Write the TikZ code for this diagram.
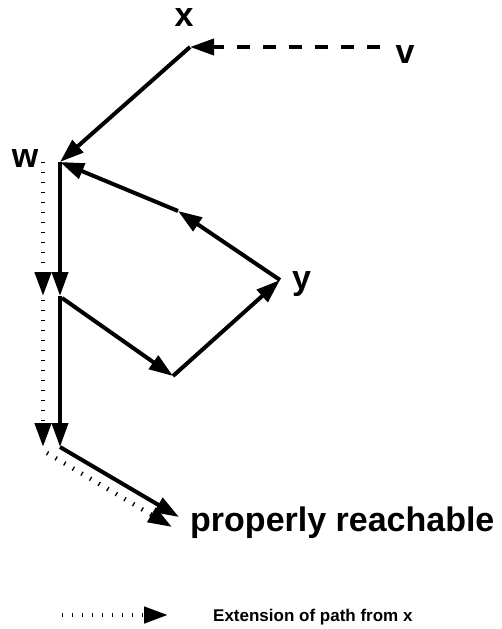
\documentclass[tikz,border=0pt]{standalone}
\usepackage{fontspec}
\setmainfont{Liberation Sans}
\usetikzlibrary{arrows.meta}
\begin{document}
\begin{tikzpicture}[x=1pt,y=-1pt,
  edge/.style={line width=4pt,-{Triangle[length=24pt,width=16pt]}},
  dashedge/.style={edge,dash pattern=on 13pt off 13pt},
  dotedge/.style={line width=4.5pt,dash pattern=on 1.3pt off 8.7pt,-{Triangle[length=24pt,width=16pt]}},
  big/.style={font=\fontsize{34}{40}\selectfont\bfseries,inner sep=0pt,anchor=base},
  small/.style={font=\fontsize{17}{20}\selectfont\bfseries,inner sep=0pt,anchor=base west}]
\useasboundingbox (0,0) rectangle (502,629);
% points
\coordinate (X) at (190,47);
\coordinate (Vs) at (380,47);
\coordinate (W) at (60,162);
\coordinate (M1) at (178,211);
\coordinate (Y) at (280,280);
\coordinate (M2) at (60,296);
\coordinate (M2b) at (62,298);
\coordinate (B) at (173,376);
\coordinate (M3) at (60,447);
\coordinate (P) at (179,517);
\coordinate (D0) at (43,162);
\coordinate (D1) at (43,296);
\coordinate (D1b) at (43,300);
\coordinate (D2) at (43,447);
\coordinate (D2b) at (47,453);
\coordinate (D3) at (172,527);
\coordinate (L0) at (62,615);
\coordinate (L1) at (168,615);
% labels
\node[big] (xl) at (184,27) {x};
\node[big] (vl) at (405,63) {v};
\node[big] (wl) at (25,167) {w};
\node[big,anchor=base west] (yl) at (292,289) {y};
\node[big,anchor=base west] (pr) at (190,531) {properly reachable};
\node[small] (leg) at (213,621) {Extension of path from x};
% connectors
\draw[dashedge] (Vs) -- (X);
\draw[edge] (X) -- (W);
\draw[edge] (Y) -- (M1);
\draw[edge] (M1) -- (W);
\draw[edge] (W) -- (M2);
\draw[edge] (M2) -- (M3);
\draw[edge] (M2b) -- (B);
\draw[edge] (B) -- (Y);
\draw[edge] (M3) -- (P);
\draw[dotedge] (D0) -- (D1);
\draw[dotedge] (D1b) -- (D2);
\draw[dotedge] (D2b) -- (D3);
\draw[dotedge] (L0) -- (L1);
\end{tikzpicture}
\end{document}
